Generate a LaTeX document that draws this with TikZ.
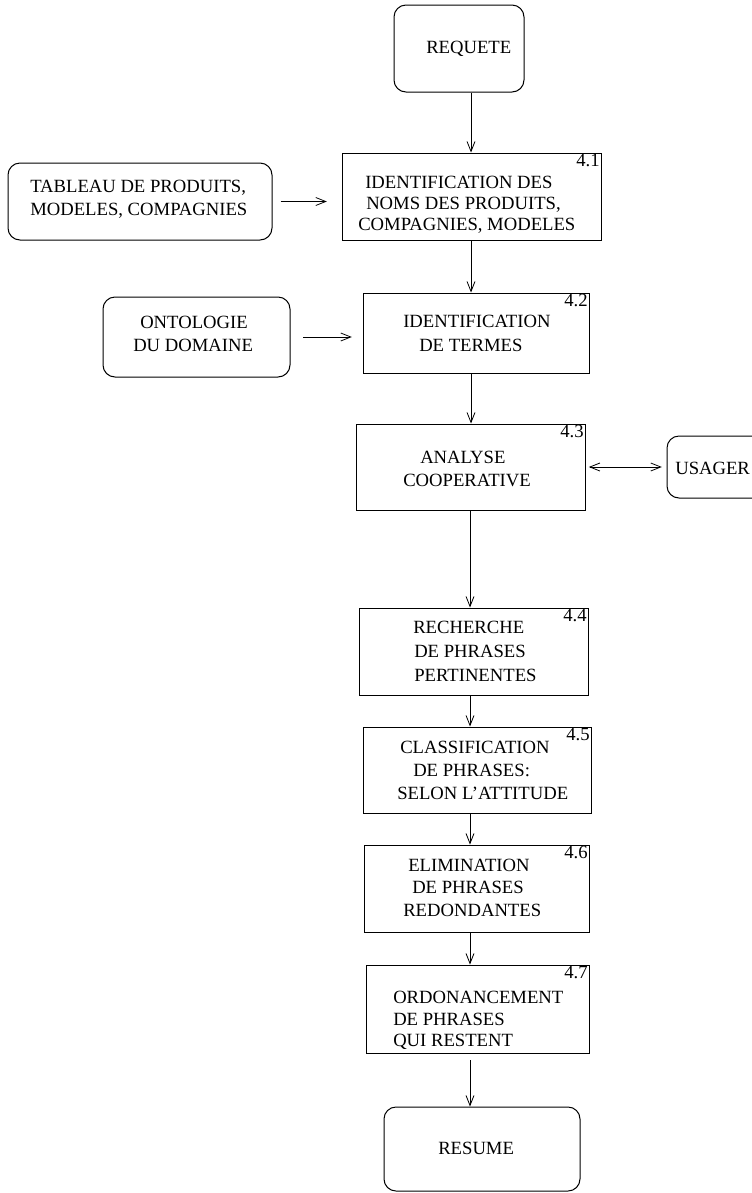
\documentclass[tikz,border=0pt]{standalone}
\usepackage{fontspec}
\setmainfont{Liberation Serif}
\usetikzlibrary{arrows.meta,fit}
\begin{document}
\begin{tikzpicture}[x=0.75pt,y=-0.75pt,
  every node/.style={font=\fontsize{14}{16.8}\selectfont},
  procbox/.style={draw,line width=0.75pt,inner sep=0pt},
  roundbox/.style={draw,line width=0.75pt,inner sep=0pt,rounded corners=9pt},
  txt/.style={anchor=base west,inner sep=0pt},
  num/.style={anchor=north east,inner sep=1.2pt},
  flow/.style={line width=0.6pt,-{Straight Barb[length=7.5pt,width=6pt]}},
  flow2/.style={line width=0.6pt,{Straight Barb[length=7.5pt,width=6pt]}-{Straight Barb[length=7.5pt,width=6pt]}}]
\useasboundingbox (0,0) rectangle (752,1193);
\clip (0,0) rectangle (752,1193);
\coordinate (col) at (471,0);
\coordinate (col2) at (470,0);
% boxes
\node[roundbox,fit={(394,5) (524,92)}] (req) {};
\node[procbox,fit={(342,153) (601,240)}] (b41) {};
\node[roundbox,fit={(8,163) (272,240)}] (tab) {};
\node[roundbox,fit={(103,297) (290,377)}] (ont) {};
\node[procbox,fit={(363,293) (589,373)}] (b42) {};
\node[procbox,fit={(356,424) (585,510)}] (b43) {};
\node[roundbox,fit={(667,436) (800,498)}] (usa) {};
\node[procbox,fit={(359,608) (588,695)}] (b44) {};
\node[procbox,fit={(363,727) (591,813)}] (b45) {};
\node[procbox,fit={(364,845) (589,932)}] (b46) {};
\node[procbox,fit={(366,965) (589,1053)}] (b47) {};
\node[roundbox,fit={(384,1107) (580,1191)}] (res) {};
% numbers
\node[num] (n41) at (b41.north east) {4.1};
\node[num] (n42) at (b42.north east) {4.2};
\node[num] (n43) at (b43.north east) {4.3};
\node[num] (n44) at (b44.north east) {4.4};
\node[num] (n45) at (b45.north east) {4.5};
\node[num] (n46) at (b46.north east) {4.6};
\node[num] (n47) at (b47.north east) {4.7};
% texts
\node[txt] (treq) at (426,53) {REQUETE};
\node[txt] (ttab1) at (30,192) {TABLEAU DE PRODUITS,};
\node[txt] (ttab2) at (30,215) {MODELES, COMPAGNIES};
\node[txt] (t411) at (365,188) {IDENTIFICATION DES};
\node[txt] (t412) at (366,209) {NOMS DES PRODUITS,};
\node[txt] (t413) at (358,230) {COMPAGNIES, MODELES};
\node[txt] (tont1) at (140,328) {ONTOLOGIE};
\node[txt] (tont2) at (133,351) {DU DOMAINE};
\node[txt] (t421) at (403,327) {IDENTIFICATION};
\node[txt] (t422) at (419,351) {DE TERMES};
\node[txt] (t431) at (420,463) {ANALYSE};
\node[txt] (t432) at (403,486) {COOPERATIVE};
\node[txt] (tusa) at (675,474) {USAGER};
\node[txt] (t441) at (413,633) {RECHERCHE};
\node[txt] (t442) at (414,657) {DE PHRASES};
\node[txt] (t443) at (414,681) {PERTINENTES};
\node[txt] (t451) at (400,753) {CLASSIFICATION};
\node[txt] (t452) at (413,776) {DE PHRASES:};
\node[txt] (t453) at (397,799) {SELON L’ATTITUDE};
\node[txt] (t461) at (408,871) {ELIMINATION};
\node[txt] (t462) at (412,893) {DE PHRASES};
\node[txt] (t463) at (403,916) {REDONDANTES};
\node[txt] (t471) at (393,1003) {ORDONANCEMENT};
\node[txt] (t472) at (393,1025) {DE PHRASES};
\node[txt] (t473) at (393,1046) {QUI RESTENT};
\node[txt] (tres) at (438,1154) {RESUME};
% connectors
\draw[flow] (req.south -| col) -- (b41.north -| col);
\draw[flow] (b41.south -| col) -- (b42.north -| col);
\draw[flow] (b42.south -| col) -- (b43.north -| col);
\draw[flow] (b43.south -| col2) -- (b44.north -| col2);
\draw[flow] (b44.south -| col2) -- (b45.north -| col2);
\draw[flow] (b45.south -| col2) -- (b46.north -| col2);
\draw[flow] (b46.south -| col2) -- (b47.north -| col2);
\draw[flow,shorten <=5pt] (b47.south -| col2) -- (res.north -| col2);
\draw[flow,shorten <=6pt,shorten >=11pt] (tab.east) -- (tab.east -| b41.west);
\draw[flow,shorten <=9.5pt,shorten >=8pt] (ont.east) -- (ont.east -| b42.west);
\draw[flow2,shorten <=2.5pt,shorten >=3.5pt] (b43.east) -- (b43.east -| usa.west);
\end{tikzpicture}
\end{document}
